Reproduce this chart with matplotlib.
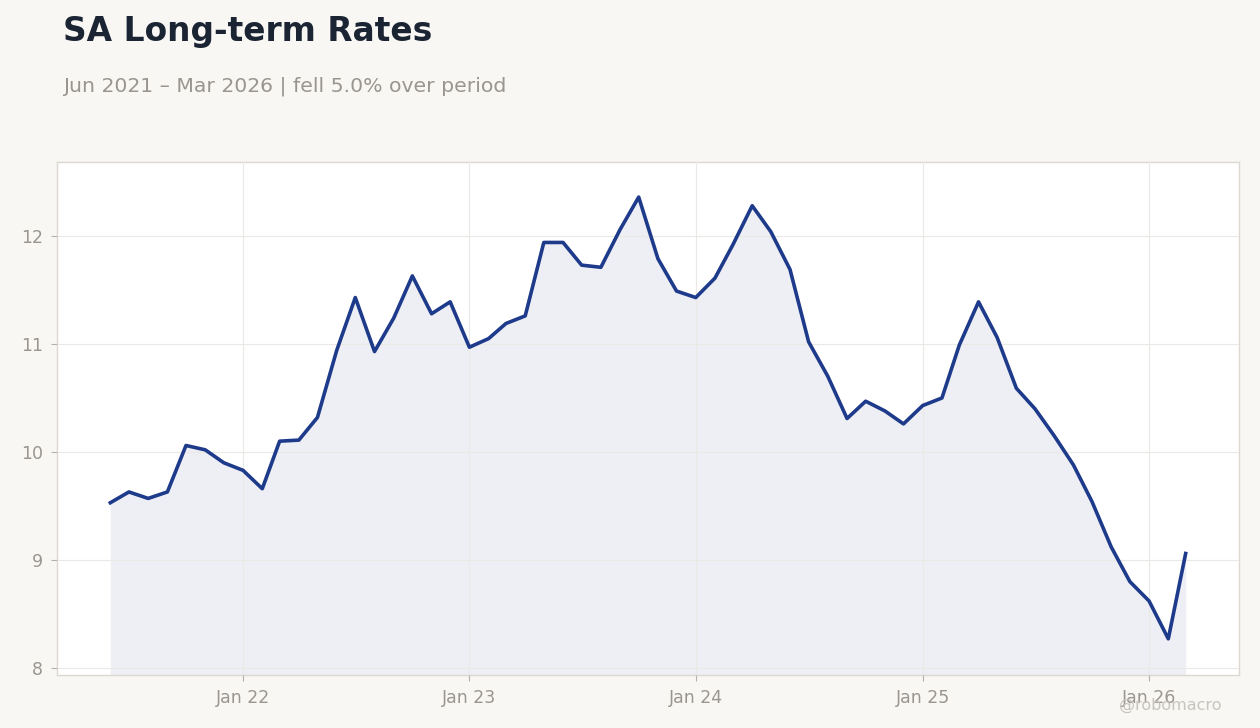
"""SA long-term rates, monthly"""
import pandas as pd
import matplotlib.pyplot as plt
import matplotlib.dates as mdates

# ---- data ----
start_month = '2021-06-01'
rates = [9.53, 9.63, 9.57, 9.63, 10.06, 10.02, 9.90,
         9.83, 9.66, 10.10, 10.11, 10.32, 10.94, 11.43, 10.93, 11.24, 11.63, 11.28, 11.39,
         10.97, 11.05, 11.19, 11.26, 11.94, 11.94, 11.73, 11.71, 12.06, 12.36, 11.79, 11.49,
         11.43, 11.61, 11.92, 12.28, 12.04, 11.69, 11.02, 10.70, 10.31, 10.47, 10.38, 10.26,
         10.43, 10.50, 10.99, 11.39, 11.06, 10.59, 10.40, 10.15, 9.88, 9.54, 9.12, 8.80,
         8.62, 8.27, 9.06]
dates = pd.date_range(start_month, periods=len(rates), freq='MS')
ytick_vals = [8, 9, 10, 11, 12]
title = 'SA Long-term Rates'
subtitle = 'Jun 2021 – Mar 2026 | fell 5.0% over period'

bg = '#f8f7f4'
line_c = '#1e3a8a'
grey = '#9a958f'

fig = plt.figure(figsize=(12.6, 7.28), dpi=100, facecolor=bg)
ax = fig.add_axes([57/1260, 1 - 675/728, (1239-57)/1260, (675-162)/728])
ax.set_facecolor('white')

ymin, ymax = 7.935, 12.685
ax.fill_between(dates, ymin, rates, color=line_c, alpha=0.08, lw=0, zorder=1)
ax.plot(dates, rates, color=line_c, lw=2.6, zorder=3)

ax.set_ylim(ymin, ymax)
ax.set_xlim(pd.Timestamp('2021-03-07'), pd.Timestamp('2026-05-26'))
ax.set_yticks(ytick_vals)
ax.xaxis.set_major_locator(mdates.YearLocator())
ax.xaxis.set_major_formatter(mdates.DateFormatter('%b %y'))

ax.grid(True, color='#ebe9e6', lw=0.8, zorder=2)
ax.set_axisbelow(False)
for s in ax.spines.values():
    s.set_color('#ddd8d2')
    s.set_linewidth(1)
ax.tick_params(labelsize=12.5, length=4, width=0.8, pad=6,
               colors='#b5b0aa', labelcolor=grey)

fig.text(63/1260, 1 - 31/728, title, fontsize=23.7, fontweight='bold',
         color='#1b2433', va='center', ha='left')
fig.text(63/1260, 1 - 86/728, subtitle, fontsize=14.65, color=grey,
         va='center', ha='left')
fig.text(1222/1260, 1 - 705/728, '@robomacro', fontsize=11.5, color='#c8c4bf',
         va='center', ha='right')

plt.savefig('out.png', dpi=100, facecolor=bg)
print('saved: out.png')
